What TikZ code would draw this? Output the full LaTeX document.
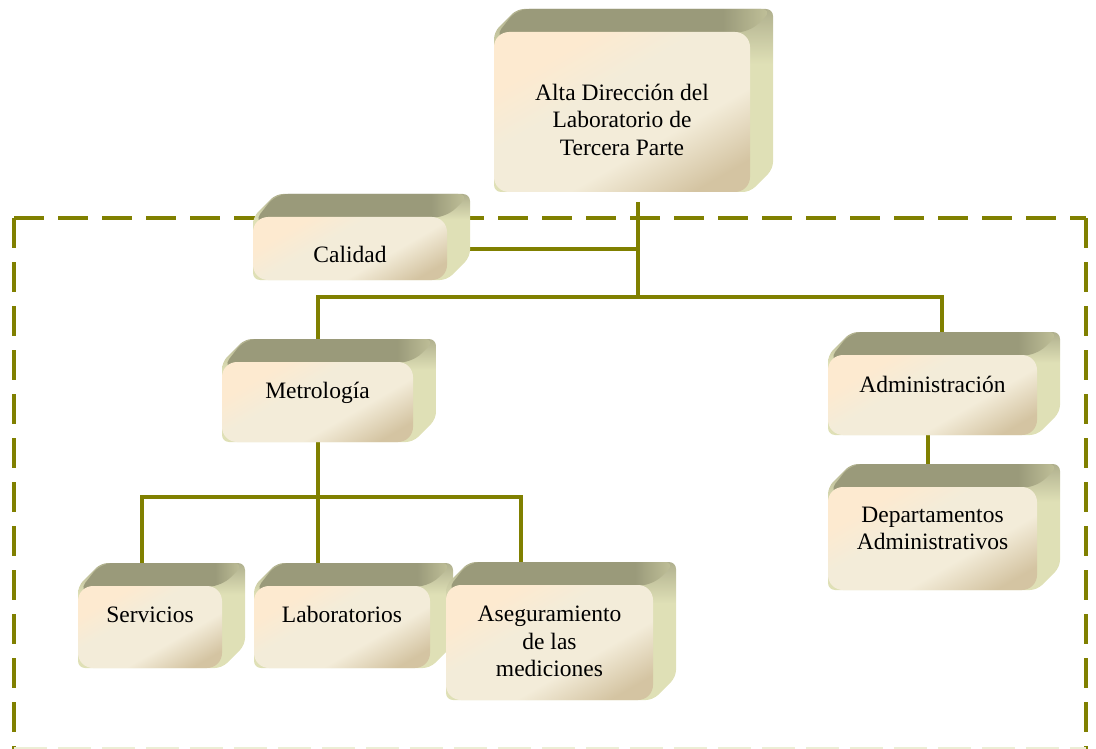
\documentclass[tikz,border=0pt]{standalone}
\usepackage{fontspec}
\setmainfont{Liberation Serif}
\usetikzlibrary{backgrounds}

% palette
\definecolor{lineolive}{RGB}{128,128,0}
\definecolor{topgrey}{RGB}{154,154,122}
\definecolor{toplight}{RGB}{196,196,156}
\definecolor{sidelight}{RGB}{223,224,182}
\definecolor{sidedark}{RGB}{176,176,142}
\definecolor{peach}{RGB}{253,234,208}
\definecolor{cream}{RGB}{243,236,217}
\definecolor{tan}{RGB}{212,196,162}
\definecolor{palefr}{RGB}{236,238,214}

% the box of a path is mapped onto the 25bp--75bp part of each shading
\pgfdeclarehorizontalshading{frontshade}{100bp}{color(0bp)=(peach); color(29bp)=(peach); color(42bp)=(cream); color(61bp)=(cream); color(77bp)=(tan); color(100bp)=(tan)}
\pgfdeclareverticalshading{sideshade}{100bp}{color(0bp)=(sidelight); color(60bp)=(sidelight); color(75bp)=(sidedark); color(100bp)=(sidedark)}
\pgfdeclarehorizontalshading{topshade}{100bp}{color(0bp)=(topgrey); color(66bp)=(topgrey); color(75bp)=(toplight); color(100bp)=(toplight)}

\tikzset{
  sideface/.style={shading=sideshade, rounded corners=7pt},
  topface/.style={shading=topshade, rounded corners=12pt},
  frontface/.style={shading=frontshade, shading angle=-60, rounded corners=15pt, inner sep=0pt, outer sep=0pt},
  label/.style={font=\fontsize{23.5}{27.5}\selectfont, align=center, inner sep=0pt, text=black},
  conn/.style={draw=lineolive, line width=4pt, line join=miter},
  frame/.style={draw=lineolive, line width=4pt, dash pattern=on 30pt off 14pt},
  paleframe/.style={draw=palefr, line width=2pt, dash pattern=on 33pt off 11pt},
}

\newcommand\boxdepth{23}
% #1 name, #2 left, #3 top, #4 right, #5 bottom of the front face
\newcommand\orgbox[5]{%
  \path[sideface] (#2,#3) -- (#2+\boxdepth,#3-\boxdepth) -- (#4+\boxdepth,#3-\boxdepth)
     -- (#4+\boxdepth,#5-\boxdepth) -- (#4,#5) -- (#2,#5) -- cycle;
  \path[topface] (#2,#3+6) -- (#2+\boxdepth,#3-\boxdepth) -- (#4+\boxdepth,#3-\boxdepth) -- (#4,#3) -- cycle;
  \node[frontface, minimum width={#4-#2}, minimum height={#5-#3}] (#1) at ({(#2+#4)/2},{(#3+#5)/2}) {};
}

\begin{document}
\begin{tikzpicture}[x=1pt, y=-1pt]
\useasboundingbox (0,0) rectangle (1096,749);

% boxes
\orgbox{top}{494}{32}{750}{192}
\orgbox{cal}{253}{217}{447}{280}
\orgbox{met}{222}{362}{413}{442}
\orgbox{adm}{828}{355}{1037}{435}
\orgbox{dep}{828}{487}{1037}{590}
\orgbox{ser}{78}{586}{222}{668}
\orgbox{lab}{254}{586}{430}{668}
\orgbox{ase}{446}{585}{653}{700}

% labels
\node[label] (top-t) at (622,119.5) {Alta Dirección del\\Laboratorio de\\Tercera Parte};
\node[label, anchor=base] (cal-t) at (350,262) {Calidad};
\node[label, anchor=base] (met-t) at (317.5,398) {Metrología};
\node[label, anchor=base] (adm-t) at (932.5,392) {Administración};
\node[label] (dep-t) at (932.5,528.5) {Departamentos\\Administrativos};
\node[label, anchor=base] (ser-t) at (150,622) {Servicios};
\node[label, anchor=base] (lab-t) at (342,622) {Laboratorios};
\node[label] (ase-t) at (549.5,641.5) {Aseguramiento\\de las\\mediciones};

% junction points of the tree
\coordinate (j0) at (638,297);
\coordinate (j1) at (942,297);
\coordinate (j2) at (142,497);
\coordinate (j3) at (521,497);
\coordinate (j4) at (928,440);

\begin{pgfonlayer}{background}
  % dashed frame
  \draw[frame] (14,218) -- (1086,218);
  \draw[frame] (14,218) -- (14,749);
  \draw[frame] (1086,218) -- (1086,749);
  \draw[paleframe] (14,748) -- (1086,748);
  % connectors
  \draw[conn] ([yshift=-10pt]top.south -| j0) -- (j0);
  \draw[conn] (cal.center) -- (cal.center -| j0);
  \draw[conn] (met.north) |- (j1) -- (adm.north -| j1);
  \draw[conn] (met.south) -- (met.south |- lab.north);
  \draw[conn] (j2 |- ser.north) -- (j2) -- (j3) -- (j3 |- ase.north);
  \draw[conn] (adm.south -| j4) -- (dep.north -| j4);
\end{pgfonlayer}
\end{tikzpicture}
\end{document}
